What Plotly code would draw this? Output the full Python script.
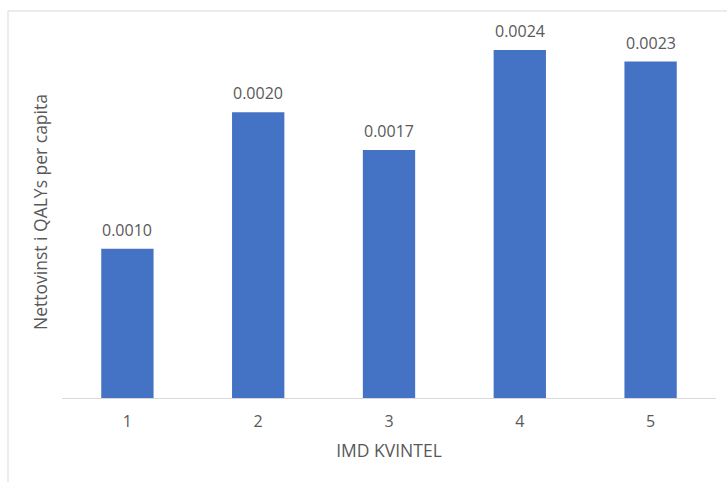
import plotly.graph_objects as go

categories = ["1", "2", "3", "4", "5"]
values = [0.00103, 0.00197, 0.00171, 0.00240, 0.00232]
labels = ["0.0010", "0.0020", "0.0017", "0.0024", "0.0023"]
x_title = "IMD KVINTEL"
y_title = "Nettovinst i QALYs per capita"

W, H = 727, 482
ML, MR, MT, MB = 62, 11, 26, 84
pw, ph = W - ML - MR, H - MT - MB

TXT = "#595959"
FONT = "Open Sans"

fig = go.Figure(
    go.Bar(
        x=categories,
        y=values,
        marker=dict(color="#4472C4", line=dict(width=0)),
        width=0.4,
    )
)

# data labels above bars (category index on a category axis)
for i, (v, t) in enumerate(zip(values, labels)):
    fig.add_annotation(
        x=i, y=v, text=t, showarrow=False,
        xref="x", yref="y",
        yanchor="middle", yshift=19,
        font=dict(size=16, color=TXT, family=FONT),
    )

fig.update_layout(
    width=W,
    height=H,
    margin=dict(l=ML, r=MR, t=MT, b=MB, autoexpand=False),
    paper_bgcolor="white",
    plot_bgcolor="white",
    font=dict(family=FONT, color=TXT, size=16),
    showlegend=False,
    xaxis=dict(
        type="category",
        showline=True,
        linecolor="#D9D9D9",
        linewidth=1,
        showgrid=False,
        ticks="outside",
        ticklen=9,
        tickcolor="rgba(0,0,0,0)",
        tickfont=dict(size=16, color=TXT),
        title=dict(text=x_title, font=dict(size=17.5, color=TXT), standoff=13),
        automargin=False,
    ),
    yaxis=dict(
        range=[0, (H - MB - MT) / 145000],
        showticklabels=False,
        showgrid=False,
        zeroline=False,
        showline=False,
        ticks="",
        title=dict(text=y_title, font=dict(size=17.5, color=TXT), standoff=8),
        automargin=False,
    ),
    shapes=[
        dict(
            type="rect",
            xref="paper",
            yref="paper",
            x0=(8 - ML) / pw,
            x1=(W + 20 - ML) / pw,
            y0=-(MB + 20) / ph,
            y1=1 + (MT - 11) / ph,
            line=dict(color="#D9D9D9", width=1),
            fillcolor="rgba(0,0,0,0)",
            layer="below",
        )
    ],
)

fig.write_html("out.html")
